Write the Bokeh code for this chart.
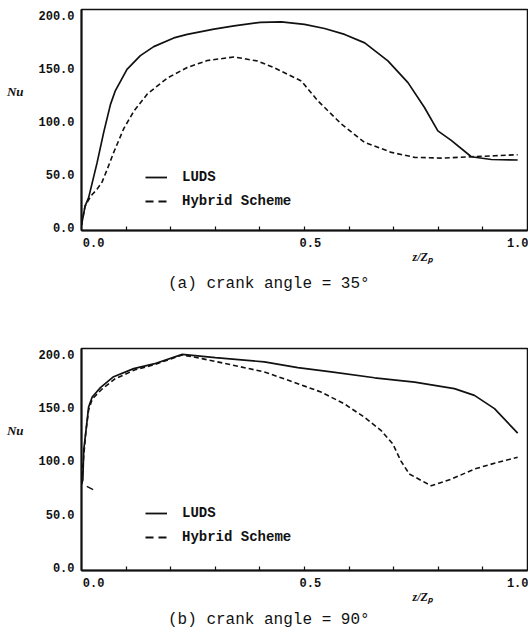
from bokeh.plotting import figure
from bokeh.layouts import column
from bokeh.models import (Range1d, FixedTicker, Legend, LegendItem, NumeralTickFormatter,
                          CustomJSTickFormatter, LinearAxis)
from bokeh.embed import file_html
from bokeh.resources import INLINE

# ---- data (a) crank angle = 35 deg ----
a_luds_x = [0.0, 0.008, 0.016, 0.035, 0.05, 0.065, 0.076, 0.102, 0.132, 0.162, 0.207, 0.237, 0.297,
            0.342, 0.401, 0.448, 0.5, 0.545, 0.59, 0.635, 0.687, 0.732, 0.769, 0.799, 0.829, 0.874,
            0.919, 0.978]
a_luds_y = [2, 20, 28, 61, 90, 116, 129, 149, 162, 170.5, 178.7, 182, 187,
            190, 193.4, 193.9, 191.4, 187.6, 182, 174, 157, 136.5, 113, 91, 82, 66.6,
            64, 63.5]
a_hyb_x = [0.0, 0.008, 0.016, 0.024, 0.035, 0.046, 0.057, 0.072, 0.095, 0.118, 0.148, 0.193, 0.237,
           0.282, 0.342, 0.395, 0.432, 0.493, 0.53, 0.583, 0.635, 0.695, 0.747, 0.807, 0.874,
           0.926, 0.978]
a_hyb_y = [2, 20, 26, 31, 36, 42.6, 54, 70.5, 93.4, 110, 126, 141, 150.8,
           157.4, 160.7, 156.9, 150.6, 138, 119.3, 97.3, 80, 70.7, 66, 65.3, 66.6,
           67.5, 68.5]

# ---- data (b) crank angle = 90 deg ----
b_luds_x = [0.0, 0.003, 0.005, 0.011, 0.016, 0.024, 0.043, 0.072, 0.117, 0.162, 0.226, 0.30,
            0.41, 0.485, 0.56, 0.657, 0.747, 0.836, 0.881, 0.926, 0.978]
b_luds_y = [78, 82, 110, 132, 150.6, 160, 169, 179, 186.6, 191, 200, 197,
            192.9, 187.6, 183.5, 178, 174, 167.8, 161.5, 149, 126]
b_hyb_x = [0.0, 0.004, 0.01, 0.016, 0.024, 0.045, 0.075, 0.12, 0.165, 0.226, 0.27, 0.338,
           0.41, 0.485, 0.537, 0.589, 0.634, 0.672, 0.698, 0.716, 0.735, 0.784, 0.829,
           0.881, 0.933, 0.978]
b_hyb_y = [78, 100, 128, 148, 158, 167, 177, 185.5, 190.5, 199.5, 196, 190,
           183.5, 172.5, 164.6, 153.6, 141, 128.4, 115.9, 100, 87.6, 76.6, 82.8,
           92.3, 98.6, 103.3]
b_stub_x = [0.012, 0.026]
b_stub_y = [76, 73]

y_ticks = [0, 50, 100, 150, 200]
x_tick_labels = ["0.0", "0.5", "1.0"]
x_tick_steps = [0.1, 0.2, 0.3, 0.4, 0.5, 0.6, 0.7, 0.8, 0.9]
legend_labels = ["LUDS", "Hybrid Scheme"]
x_title = "z/Zₚ"
y_title = "Nu"
captions = ["(a) crank angle = 35°", "(b) crank angle = 90°"]

# label placement (screen-like positions along the axis, style only)
X_LABEL_POS = [0.027, 0.513, 0.978]
X_TITLE_POS = 0.765
CAPTION_POS = 0.42
Y_TITLE_POS = 128.5

MONO = "Liberation Mono"
INK = "#111111"


def text_axis(p, pos, labels, side, standoff, font, size, style):
    ax = LinearAxis(ticker=FixedTicker(ticks=list(pos), minor_ticks=[]),
                    formatter=CustomJSTickFormatter(args=dict(labels=list(labels)),
                                                    code="return labels[index]"))
    ax.axis_line_color = None
    ax.major_tick_line_color = None
    ax.minor_tick_line_color = None
    ax.major_tick_in = 0
    ax.major_tick_out = 0
    ax.major_label_standoff = standoff
    ax.major_label_text_font = font
    ax.major_label_text_font_size = size
    ax.major_label_text_font_style = style
    ax.major_label_text_color = INK
    p.add_layout(ax, side)
    return ax


def panel(lx, ly, hx, hy, caption, height, btop, bbot, legend_loc, cap_standoff, stub=None):
    p = figure(width=528, height=height, x_range=Range1d(0, 1.0), y_range=Range1d(-3, 205.5),
               output_backend="svg", toolbar_location=None, tools="",
               min_border_left=81, min_border_right=1, min_border_top=btop, min_border_bottom=bbot)
    p.grid.visible = False
    p.outline_line_color = INK
    p.outline_line_width = 1.5
    p.background_fill_color = "white"
    p.border_fill_color = "white"

    ya = p.yaxis[0]
    ya.ticker = FixedTicker(ticks=y_ticks)
    ya.formatter = NumeralTickFormatter(format="0.0")
    ya.major_tick_in = 0
    ya.major_tick_out = 0
    ya.minor_tick_in = 0
    ya.minor_tick_out = 0
    ya.major_label_standoff = 7
    ya.major_label_text_font = MONO
    ya.major_label_text_font_style = "bold"
    ya.major_label_text_font_size = "12px"
    ya.major_label_text_color = INK
    ya.axis_line_width = 2
    ya.axis_line_color = INK

    # primary x axis: inside ticks every 0.1, tick labels placed at X_LABEL_POS
    xa = p.xaxis[0]
    xa.ticker = FixedTicker(ticks=X_LABEL_POS, minor_ticks=x_tick_steps)
    xa.formatter = CustomJSTickFormatter(args=dict(labels=x_tick_labels), code="return labels[index]")
    xa.major_tick_in = 0
    xa.major_tick_out = 0
    xa.major_tick_line_color = None
    xa.minor_tick_in = 4
    xa.minor_tick_out = 0
    xa.minor_tick_line_color = INK
    xa.minor_tick_line_width = 1.2
    xa.axis_line_width = 2
    xa.axis_line_color = INK
    xa.major_label_standoff = 7
    xa.major_label_text_font = MONO
    xa.major_label_text_font_style = "bold"
    xa.major_label_text_font_size = "12px"
    xa.major_label_text_color = INK

    # x title and caption as further label rows below
    text_axis(p, [X_TITLE_POS], [x_title], "below", 0, "Liberation Serif", "12px", "bold italic")
    text_axis(p, [CAPTION_POS], [caption], "below", cap_standoff, MONO, "16px", "normal")
    # y title (horizontal) on the left
    text_axis(p, [Y_TITLE_POS], [y_title], "left", 12, "Liberation Serif", "13px", "bold italic")

    p.line(lx, ly, line_color=INK, line_width=1.7)
    p.line(hx, hy, line_color=INK, line_width=1.6, line_dash="5 3")
    if stub is not None:
        p.line(stub[0], stub[1], line_color=INK, line_width=1.4)

    # legend with proxy renderers (single point -> invisible in plot)
    r1 = p.line(lx[:1], ly[:1], line_color=INK, line_width=1.8)
    r2 = p.line(hx[:1], hy[:1], line_color=INK, line_width=1.8, line_dash="8 5")
    leg = Legend(items=[LegendItem(label=legend_labels[0], renderers=[r1]),
                        LegendItem(label=legend_labels[1], renderers=[r2])],
                 location=legend_loc, border_line_color=None, background_fill_alpha=0,
                 padding=0, margin=0, spacing=4, glyph_width=22, glyph_height=20,
                 label_height=20, label_standoff=15, label_text_font=MONO,
                 label_text_font_style="bold", label_text_font_size="14px",
                 label_text_color=INK)
    p.add_layout(leg)
    return p


p1 = panel(a_luds_x, a_luds_y, a_hyb_x, a_hyb_y, captions[0], 338, 9, 108, (64, 19), 8)
p2 = panel(b_luds_x, b_luds_y, b_hyb_x, b_hyb_y, captions[1], 294, 10, 62, (64, 23), 4,
           stub=(b_stub_x, b_stub_y))

layout = column(p1, p2, spacing=0)
open("out.html", "w").write(file_html(layout, INLINE))
